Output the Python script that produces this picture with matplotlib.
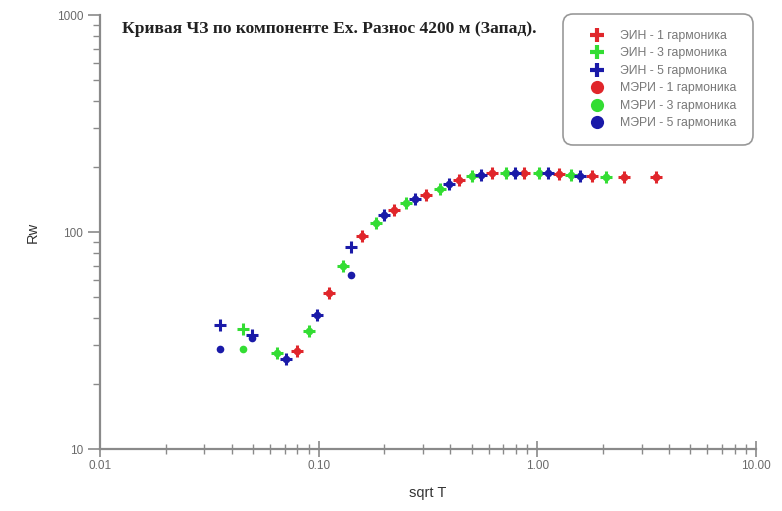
import matplotlib
matplotlib.use("Agg")
import matplotlib.pyplot as plt
from matplotlib.ticker import FixedLocator, LogLocator, NullFormatter, FixedFormatter

# ---- data ----
# ЭИН (crosses)
ein1_x = [0.0794, 0.111, 0.157, 0.220, 0.311, 0.440, 0.623, 0.873, 1.25, 1.77, 2.50, 3.49]
ein1_y = [28.3, 52.4, 95.9, 126, 148, 174, 187, 187, 185, 181, 180, 180]
ein3_x = [0.045, 0.0643, 0.090, 0.129, 0.182, 0.252, 0.357, 0.505, 0.722, 1.02, 1.43, 2.07]
ein3_y = [35.7, 27.7, 35.0, 69.7, 110, 136, 158, 181, 187, 187, 183, 180]
ein5_x = [0.0353, 0.0494, 0.0707, 0.098, 0.140, 0.198, 0.277, 0.396, 0.555, 0.794, 1.12, 1.57]
ein5_y = [37.3, 33.5, 26.0, 41.5, 85.3, 120, 142, 166, 183, 187, 187, 181]
# МЭРИ (circles)
meri1_x = [0.0794, 0.111, 0.157, 0.220, 0.311, 0.440, 0.623, 0.873, 1.25, 1.77, 2.50, 3.49]
meri1_y = [28.3, 52.4, 95.9, 126, 148, 174, 187, 187, 185, 181, 180, 180]
meri3_x = [0.045, 0.0643, 0.090, 0.129, 0.182, 0.252, 0.357, 0.505, 0.722, 1.02, 1.43, 2.07]
meri3_y = [28.9, 27.7, 35.0, 69.7, 110, 136, 158, 181, 187, 187, 183, 180]
meri5_x = [0.0353, 0.0494, 0.0707, 0.098, 0.140, 0.198, 0.277, 0.396, 0.555, 0.794, 1.12, 1.57]
meri5_y = [28.9, 32.5, 26.0, 41.5, 63.4, 120, 142, 166, 183, 187, 187, 181]

labels = ["ЭИН - 1 гармоника", "ЭИН - 3 гармоника", "ЭИН - 5 гармоника",
          "МЭРИ - 1 гармоника", "МЭРИ - 3 гармоника", "МЭРИ - 5 гармоника"]
x_ticks = [0.01, 0.1, 1, 10]
x_ticklabels = ["0.01", "0.10", "1.00", "10.00"]
y_ticks = [10, 100, 1000]
y_ticklabels = ["10", "100", "1000"]
title = "Кривая ЧЗ по компоненте Ex. Разнос 4200 м (Запад)."

RED = "#e0262b"
GREEN = "#33dd33"
BLUE = "#1a1aa8"

plt.rcParams['font.family'] = ['Liberation Sans', 'DejaVu Sans']

fig = plt.figure(figsize=(7.82, 5.11), dpi=100)
ax = fig.add_axes([100/782, 1-449/511, 656/782, 434/511])

ms_c, ms_p, mew = 5.5, 8.0, 2.2
ax.plot(meri1_x, meri1_y, 'o', color=RED, ms=ms_c, mec='none', zorder=3)
ax.plot(meri3_x, meri3_y, 'o', color=GREEN, ms=ms_c, mec='none', zorder=3)
ax.plot(meri5_x, meri5_y, 'o', color=BLUE, ms=ms_c, mec='none', zorder=3)
ax.plot(ein1_x, ein1_y, '+', color=RED, ms=ms_p, mew=mew, zorder=4)
ax.plot(ein3_x, ein3_y, '+', color=GREEN, ms=ms_p, mew=mew, zorder=4)
ax.plot(ein5_x, ein5_y, '+', color=BLUE, ms=ms_p, mew=mew, zorder=4)

ax.set_xscale('log')
ax.set_yscale('log')
ax.set_xlim(0.01, 10)
ax.set_ylim(10, 1000)

for s in ['top', 'right']:
    ax.spines[s].set_visible(False)
for s in ['left', 'bottom']:
    ax.spines[s].set_color('#8a8a8a')
    ax.spines[s].set_linewidth(1.6)

ax.xaxis.set_major_locator(FixedLocator(x_ticks))
ax.xaxis.set_major_formatter(FixedFormatter(x_ticklabels))
ax.xaxis.set_minor_locator(LogLocator(base=10, subs=range(2, 10)))
ax.xaxis.set_minor_formatter(NullFormatter())
ax.yaxis.set_major_locator(FixedLocator(y_ticks))
ax.yaxis.set_major_formatter(FixedFormatter(y_ticklabels))
ax.yaxis.set_minor_locator(LogLocator(base=10, subs=range(2, 10)))
ax.yaxis.set_minor_formatter(NullFormatter())

ax.tick_params(axis='x', which='major', direction='inout', length=12, width=1.2,
               color='#8a8a8a', labelsize=8.5, labelcolor='#6a6a6a', pad=2)
ax.tick_params(axis='x', which='minor', direction='inout', length=7, width=1.0,
               color='#8a8a8a')
ax.tick_params(axis='y', which='major', direction='out', length=9, width=1.2,
               color='#8a8a8a', labelsize=8.5, labelcolor='#6a6a6a', pad=3)
ax.tick_params(axis='y', which='minor', direction='out', length=5, width=1.0,
               color='#8a8a8a')

ax.set_xlabel("sqrt T", fontsize=10.5, color='#333333', labelpad=10)
ax.set_ylabel("Rw", fontsize=10.5, color='#333333', labelpad=12)

ax.text(0.034, 0.967, title, transform=ax.transAxes, ha='left', va='center',
        fontsize=12.6, fontweight='bold', family=['Liberation Serif', 'DejaVu Serif'],
        color='#222222')

handles = [
    plt.Line2D([], [], ls='none', marker='+', color=RED, ms=10, mew=3),
    plt.Line2D([], [], ls='none', marker='+', color=GREEN, ms=10, mew=3),
    plt.Line2D([], [], ls='none', marker='+', color=BLUE, ms=10, mew=3),
    plt.Line2D([], [], ls='none', marker='o', color=RED, ms=9.5, mec='none'),
    plt.Line2D([], [], ls='none', marker='o', color=GREEN, ms=9.5, mec='none'),
    plt.Line2D([], [], ls='none', marker='o', color=BLUE, ms=9.5, mec='none'),
]
leg = ax.legend(handles, labels, loc='upper left',
                bbox_to_anchor=(563/782, 1-14/511), bbox_transform=fig.transFigure,
                borderaxespad=0, fancybox=True, framealpha=1, fontsize=8.8,
                labelcolor='#777777', edgecolor='#999999', labelspacing=0.45,
                handletextpad=0.5, borderpad=1.3, handlelength=2.9)
leg.get_frame().set_linewidth(1.2)
leg.get_frame().set_boxstyle('round', pad=0.0, rounding_size=0.8)

fig.savefig("out.png", dpi=100)
